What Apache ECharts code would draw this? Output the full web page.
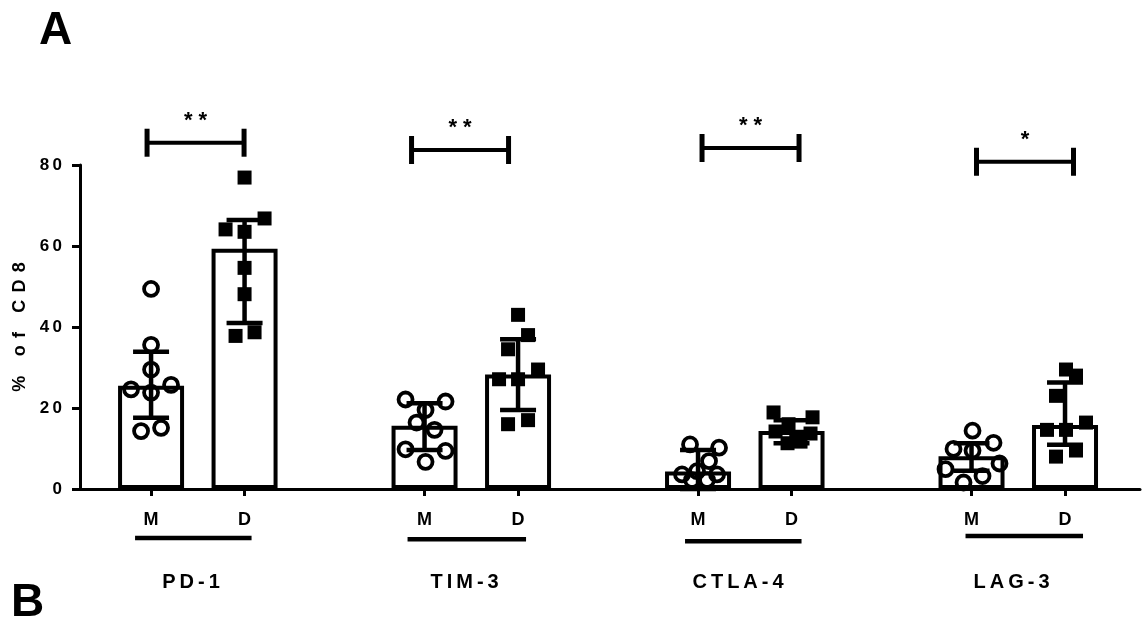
<!DOCTYPE html>
<html><head><meta charset="utf-8">
<script src="https://cdn.jsdelivr.net/npm/echarts@6/dist/echarts.min.js"></script>
<style>html,body{margin:0;padding:0;background:#fff}#c{width:1142px;height:618px}</style>
</head><body><div id="c"></div>
<script>
// ---- data ----
const groups = ['PD-1', 'TIM-3', 'CTLA-4', 'LAG-3'];
const subLabels = ['M', 'D'];
const yTickValues = [0, 20, 40, 60, 80];
const significance = ['**', '**', '**', '*'];
const meanM = [25.5, 15.6, 4.3, 8.1];
const meanD = [59.3, 28.3, 14.3, 15.8];
const errHighM = [33.9, 21.2, 9.6, 11.3];
const errLowM = [17.6, 9.6, 0, 4.5];
const errHighD = [66.4, 37.0, 17.0, 26.3];
const errLowD = [41.0, 19.5, 11.3, 10.9];
const pointsM_PD1 = [49.4, 35.6, 29.5, 24.6, 23.8, 25.7, 14.3, 15.1];
const pointsD_PD1 = [76.9, 66.8, 64.1, 63.5, 54.6, 48.1, 37.8, 38.7];
const pointsM_TIM3 = [22.1, 21.6, 19.5, 16.4, 14.6, 9.8, 9.4, 6.7];
const pointsD_TIM3 = [43.0, 38.0, 34.5, 29.5, 27.1, 27.1, 17.0, 16.0];
const pointsM_CTLA4 = [11.0, 10.2, 6.9, 3.6, 4.4, 3.6, 2.2, 2.2];
const pointsD_CTLA4 = [18.9, 17.7, 16.0, 14.2, 13.7, 12.9, 11.3, 11.7];
const pointsM_LAG3 = [14.4, 9.9, 11.4, 9.5, 4.9, 6.3, 3.2, 1.6];
const pointsD_LAG3 = [29.5, 28.0, 23.0, 14.6, 14.6, 16.4, 9.5, 8.0];
const bracketLevel = [85.5, 83.7, 84.2, 80.8];

// ---- layout (not data) ----
const pointsM = [pointsM_PD1, pointsM_TIM3, pointsM_CTLA4, pointsM_LAG3];
const pointsD = [pointsD_PD1, pointsD_TIM3, pointsD_CTLA4, pointsD_LAG3];
const jitterM = [[0,0,0,-20,0,20,-10,10],[-19,21,1,-8,10,-19,21,1],[-8,21,11,-16,-1,19,-6,9],[1,-18,22,1,-26,28,11,-8]];
const jitterD = [[0,20,-19,0,0,0,-9,10],[0,10,-10,20,-19,0,10,-10],[-18,21,-3,-16,19,6,-4,9],[1,11,-9,-18,1,21,11,-9]];
const PX = 93.5;            // px per x unit
const GROUP_STEP = 2.925;   // x units between groups
const bracketShift = [-4, -13, 4, 5];
const ulFrom = [-16, -17, -13, -6];
const ulTo = [7, 8, 10, 18];
const ulDy = [49, 50.3, 52.3, 47];
const FONT = "'Liberation Sans', Arial, sans-serif";
const spaced = (s, sep) => s.split('').join(sep || '\u2009');

const pos = (g, s) => g * GROUP_STEP + s;
const tickPositions = [];
const tickNames = {};
groups.forEach((g, i) => subLabels.forEach((s, j) => {
  const p = +pos(i, j).toFixed(4);
  tickPositions.push(p); tickNames[p.toFixed(4)] = s;
}));

const barData = [];
const errData = [];
const circleData = [];
const squareData = [];
const decorData = [];
groups.forEach((g, i) => {
  barData.push([pos(i, 0), meanM[i]], [pos(i, 1), meanD[i]]);
  errData.push([pos(i, 0), errLowM[i], errHighM[i]], [pos(i, 1), errLowD[i], errHighD[i]]);
  pointsM[i].forEach((v, k) => circleData.push([pos(i, 0) + jitterM[i][k] / PX, v]));
  pointsD[i].forEach((v, k) => squareData.push([pos(i, 1) + jitterD[i][k] / PX, v]));
  decorData.push([pos(i, 0), pos(i, 1), bracketLevel[i], i]);
});

const chart = echarts.init(document.getElementById('c'), null, {renderer: 'canvas'});
chart.setOption({
  animation: false,
  backgroundColor: '#fff',
  textStyle: {fontFamily: FONT},
  grid: {left: 80, right: 2, top: 165, bottom: 129, containLabel: false},
  xAxis: {
    type: 'value', min: -0.76, max: -0.76 + 1060 / PX,
    splitLine: {show: false},
    axisLine: {show: true, onZero: false, lineStyle: {color: '#000', width: 3}},
    axisTick: {show: true, customValues: tickPositions, length: 7, lineStyle: {color: '#000', width: 3}},
    axisLabel: {show: true, customValues: tickPositions, margin: 22, color: '#000', fontWeight: 'bold',
      fontSize: 18, fontFamily: FONT,
      formatter: v => tickNames[(+v).toFixed(4)] || ''}
  },
  yAxis: {
    type: 'value', min: 0, max: 80, interval: 20,
    name: spaced('% of CD8', '\u2009\u2009'), nameLocation: 'middle', nameRotate: 90, nameGap: 48,
    nameTextStyle: {color: '#000', fontWeight: 'bold', fontSize: 18, fontFamily: FONT},
    splitLine: {show: false},
    axisLine: {show: true, onZero: false, lineStyle: {color: '#000', width: 3}},
    axisTick: {show: true, length: 8, lineStyle: {color: '#000', width: 3}},
    axisLabel: {color: '#000', fontWeight: 'bold', fontSize: 17, margin: 18, fontFamily: FONT,
      formatter: v => spaced(String(v))}
  },
  graphic: [
    {type: 'text', left: 39, top: 8, style: {text: 'A', font: 'bold 46px ' + FONT, fill: '#000'}},
    {type: 'text', left: 11, top: 580, style: {text: 'B', font: 'bold 46px ' + FONT, fill: '#000'}}
  ],
  series: [
    {
      type: 'bar', data: barData, barWidth: 66, silent: true, z: 2,
      itemStyle: {color: '#fff', borderColor: '#000', borderWidth: 4}
    },
    {
      type: 'scatter', data: circleData, symbol: 'circle', symbolSize: 14, silent: true, z: 3,
      itemStyle: {color: 'rgba(255,255,255,0)', borderColor: '#000', borderWidth: 3.8, opacity: 1}
    },
    {
      type: 'scatter', data: squareData, symbol: 'rect', symbolSize: 14, silent: true, z: 3,
      itemStyle: {color: '#000', opacity: 1}
    },
    {
      type: 'custom', data: errData, silent: true, z: 4,
      renderItem: (params, api) => {
        const lo = api.coord([api.value(0), api.value(1)]);
        const hi = api.coord([api.value(0), api.value(2)]);
        const st = {stroke: '#000', lineWidth: 4.5};
        return {type: 'group', children: [
          {type: 'line', shape: {x1: lo[0], y1: lo[1], x2: hi[0], y2: hi[1]}, style: st},
          {type: 'line', shape: {x1: hi[0] - 18, y1: hi[1], x2: hi[0] + 18, y2: hi[1]}, style: st},
          {type: 'line', shape: {x1: lo[0] - 18, y1: lo[1], x2: lo[0] + 18, y2: lo[1]}, style: st}
        ]};
      }
    },
    {
      type: 'custom', data: decorData, silent: true, z: 5, clip: false,
      renderItem: (params, api) => {
        const g = api.value(3);
        const pM = api.coord([api.value(0), 0]);
        const pD = api.coord([api.value(1), 0]);
        const yB = api.coord([api.value(0), api.value(2)])[1];
        const x1 = pM[0] + bracketShift[g];
        const x2 = x1 + 97;
        const st = {stroke: '#000', lineWidth: 4};
        const uy = pM[1] + ulDy[g];
        return {type: 'group', children: [
          {type: 'line', shape: {x1: x1, y1: yB, x2: x2, y2: yB}, style: st},
          {type: 'line', shape: {x1: x1, y1: yB - 14, x2: x1, y2: yB + 14}, style: {stroke: '#000', lineWidth: 5}},
          {type: 'line', shape: {x1: x2, y1: yB - 14, x2: x2, y2: yB + 14}, style: {stroke: '#000', lineWidth: 5}},
          {type: 'text', x: (x1 + x2) / 2, y: yB - 22, style: {text: spaced(significance[g], ' '),
            font: 'bold 22px ' + FONT, fill: '#000', align: 'center', verticalAlign: 'middle'}},
          {type: 'rect', shape: {x: pM[0] + ulFrom[g], y: uy - 2.3, width: (pD[0] + ulTo[g]) - (pM[0] + ulFrom[g]), height: 4.6},
            style: {fill: '#000'}},
          {type: 'text', x: pM[0] + 40, y: pM[1] + 93, style: {text: spaced(groups[g]),
            font: 'bold 20px ' + FONT, fill: '#000', align: 'center', verticalAlign: 'middle'}}
        ]};
      }
    }
  ]
});
</script>
</body></html>
